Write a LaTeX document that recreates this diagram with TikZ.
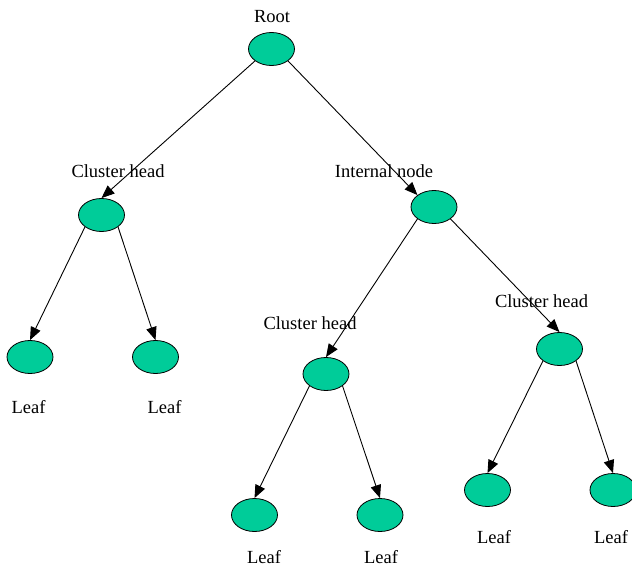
\documentclass[tikz,border=0pt]{standalone}
\usepackage{fontspec}
\setmainfont{Liberation Serif}
\usetikzlibrary{shapes.geometric,arrows.meta}
\definecolor{nodegreen}{HTML}{00CC99}

\begin{document}
\begin{tikzpicture}[x=1pt, y=1pt,
    treenode/.style={ellipse, draw=black, line width=0.8pt, fill=nodegreen,
        minimum width=46pt, minimum height=33pt, inner sep=0pt},
    lbl/.style={font=\fontsize{18.5}{22}\selectfont, inner sep=0pt},
    arr/.style={->, >={Triangle[length=13pt, width=10.5pt]}, line width=0.9pt}]

    \useasboundingbox (0,0) rectangle (632,-568);

    % Root and the first level
    \node[treenode] (root) at (271.5,-49) {};
    \node[lbl] (rootlbl) at (272,-17) {Root};
    \node[treenode] (chA) at (101.5,-215) {};
    \node[lbl] (chAlbl) at (118,-171) {Cluster head};
    \node[treenode] (internal) at (434,-207) {};
    \node[lbl] (internallbl) at (384,-171) {Internal node};

    % Leaves of the left cluster head
    \node[treenode] (leafA) at (30,-357) {};
    \node[lbl] (leafAlbl) at (28.5,-407) {Leaf};
    \node[treenode] (leafB) at (155.5,-357) {};
    \node[lbl] (leafBlbl) at (164.5,-407) {Leaf};

    % Cluster heads under the internal node
    \node[treenode] (chB) at (326,-374) {};
    \node[lbl] (chBlbl) at (310,-323) {Cluster head};
    \node[treenode] (chC) at (559.5,-349) {};
    \node[lbl] (chClbl) at (541.5,-301) {Cluster head};

    % Their leaves
    \node[treenode] (leafC) at (254.5,-515) {};
    \node[lbl] (leafClbl) at (264,-557) {Leaf};
    \node[treenode] (leafD) at (380,-515) {};
    \node[lbl] (leafDlbl) at (381,-557) {Leaf};
    \node[treenode] (leafE) at (487.5,-490) {};
    \node[lbl] (leafElbl) at (494,-537) {Leaf};
    \node[treenode] (leafF) at (613,-490) {};
    \node[lbl] (leafFlbl) at (611,-537) {Leaf};

    % Arrows
    \draw[arr] (root.south west) -- (chA.north);
    \draw[arr] (root.south east) -- (internal.north west);
    \draw[arr] (chA.south west) -- (leafA.north);
    \draw[arr] (chA.south east) -- (leafB.north);
    \draw[arr] (internal.south west) -- (chB.north);
    \draw[arr] (internal.south east) -- (chC.north);
    \draw[arr] (chB.south west) -- (leafC.north);
    \draw[arr] (chB.south east) -- (leafD.north);
    \draw[arr] (chC.south west) -- (leafE.north);
    \draw[arr] (chC.south east) -- (leafF.north);

\end{tikzpicture}
\end{document}
